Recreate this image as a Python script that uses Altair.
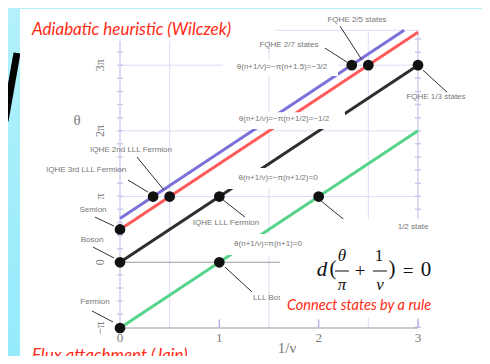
import altair as alt
import pandas as pd

# ---------------- data ----------------
series_names = ["green", "black", "red", "blue"]
series_x0 = [0, 0, 0, 0]
series_y0 = [0, 1, 1.5, 1.667]
series_x1 = [3, 3, 3, 2.86]
series_y1 = [3, 4, 4.5, 4.53]
series_colors = ["#56d48c", "#2e2e2e", "#ff5a5a", "#7b72d9"]

point_x = [0, 0, 0, 1 / 3, 0.5, 1, 1, 2, 7 / 3, 2.5, 3]
point_y = [0, 1, 1.5, 2, 2, 2, 1, 2, 4, 4, 4]

label_text = ["FQHE 2/5 states", "FQHE 2/7 states", "FQHE 1/3 states",
              "IQHE 2nd LLL Fermion", "IQHE 3rd LLL Fermion", "Semion",
              "Boson", "Fermion", "IQHE LLL Fermion", "1/2 state", "LLL Boson"]
label_x = [2.386, 1.701, 3.181, 0.111, -0.342, -0.272, -0.282, -0.252, 1.067, 2.95, 1.53]
label_y = [4.684, 4.30, 3.513, 2.707, 2.403, 1.795, 1.338, 0.395, 1.597, 1.536, 0.456]

arrow_x1 = [2.215, 2.064, 3.050, 0.171, 0.081, -0.252, -0.272, -0.282, 1.027, 2.013, 1.057]
arrow_y1 = [4.593, 4.259, 3.924, 2.601, 2.251, 1.688, 1.232, 0.259, 1.962, 1.947, 0.928]
arrow_x2 = [2.437, 2.285, 3.292, 0.443, 0.282, -0.060, -0.060, -0.070, 1.258, 2.285, 1.329]
arrow_y2 = [4.076, 4.046, 3.589, 2.099, 2.068, 1.551, 1.065, 0.091, 1.688, 1.612, 0.548]

rule_text = ["θ(n+1/ν)=−π(n+1.5)=−3/2", "θ(n+1/ν)=−π(n+1/2)=−1/2",
             "θ(n+1/ν)=−π(n+1/2)=0", "θ(n+1/ν)=π(n+1)=0"]
rule_x = [1.631, 1.651, 1.591, 1.490]
rule_y = [3.970, 3.179, 2.281, 1.278]
rbox_x1 = [1.037, 1.037, 1.057, 1.057]
rbox_x2 = [2.195, 2.265, 2.094, 1.933]
rbox_y1 = [3.833, 3.027, 2.114, 1.110]
rbox_y2 = [4.091, 3.285, 2.433, 1.430]

xtick_vals = [0, 1, 2, 3]
xtick_labels = ["0", "1", "2", "3"]
ytick_vals = [0, 1, 2, 3, 4]
ytick_labels = ["−π", "0", "π", "2π", "3π"]
grid_x = [0.5, 1.5, 2.5]
grid_y = [2, 3, 4, 4.53]

# ---------------- helpers ----------------
W, H = 298, 299
xs = alt.Scale(domain=[0, 3], nice=False, zero=False)
ys = alt.Scale(domain=[0, 4.55], nice=False, zero=False)
dummy = pd.DataFrame({"a": [0]})


def XX(f):
    return alt.X(f, type="quantitative", scale=xs, axis=None)


def YY(f):
    return alt.Y(f, type="quantitative", scale=ys, axis=None)


def rules(df, color, width, dash=None):
    kw = dict(color=color, strokeWidth=width)
    if dash is not None:
        kw["strokeDash"] = dash
    return alt.Chart(df).mark_rule(**kw).encode(
        x=XX("x"), x2="x2:Q", y=YY("y"), y2="y2:Q")


def pbox(x1, x2, y1, y2, color="white"):
    return alt.Chart(dummy).mark_rect(color=color).encode(
        x=alt.value(x1), x2=alt.value(x2), y=alt.value(y1), y2=alt.value(y2))


def ptext(t, px, py, size, color, font, style="normal", align="center",
          baseline="middle", weight="normal"):
    return alt.Chart(dummy).mark_text(
        text=t, fontSize=size, color=color, font=font, fontStyle=style,
        align=align, baseline=baseline, fontWeight=weight).encode(
        x=alt.value(px), y=alt.value(py))


layers = []

# background gradient, stray title glyph, white slide panel
layers.append(alt.Chart(dummy).mark_rect(color=alt.Gradient(
    gradient="linear",
    stops=[alt.GradientStop(color="#b3f1fb", offset=0),
           alt.GradientStop(color="#93eafc", offset=1)],
    x1=0, x2=0, y1=0, y2=1)).encode(
    x=alt.value(-125), x2=alt.value(375), y=alt.value(-30), y2=alt.value(345)))
layers.append(alt.Chart(dummy).mark_rule(color="black", strokeWidth=7).encode(
    x=alt.value(-103), x2=alt.value(-115), y=alt.value(24), y2=alt.value(92)))
layers.append(pbox(-100, 375, -20, 345))

# grid
grid_v = pd.DataFrame({"x": grid_x, "x2": grid_x, "y": [0] * len(grid_x),
                       "y2": [4.53] * len(grid_x)})
grid_h = pd.DataFrame({"x": [0] * len(grid_y), "x2": [3] * len(grid_y),
                       "y": grid_y, "y2": grid_y})
layers.append(rules(grid_v, "#dcdcf4", 1))
layers.append(rules(grid_h, "#dcdcf4", 1))
side = pd.DataFrame({"x": [0, 3], "x2": [0, 3], "y": [0, 0], "y2": [4.53, 4.53]})
layers.append(rules(side, "#c9c9ee", 1.3))
layers.append(rules(side, "#c9c9ee", 6, [1.5, 11.6]))
zero_line = pd.DataFrame({"x": [0], "x2": [1.9], "y": [1], "y2": [1]})
layers.append(rules(zero_line, "#9a9a9a", 1))
base = pd.DataFrame({"x": [0], "x2": [3], "y": [0], "y2": [0]})
layers.append(rules(base, "#9a9a9a", 1.2))
xt = pd.DataFrame({"x": xtick_vals[1:], "x2": xtick_vals[1:],
                   "y": [0] * 3, "y2": [0.13] * 3})
layers.append(rules(xt, "#b8b8e8", 1.5))

# series lines
rows = []
for n, a, b, c, d in zip(series_names, series_x0, series_y0, series_x1, series_y1):
    rows.append({"s": n, "x": a, "y": b})
    rows.append({"s": n, "x": c, "y": d})
layers.append(alt.Chart(pd.DataFrame(rows)).mark_line(strokeWidth=3).encode(
    x=XX("x"), y=YY("y"),
    color=alt.Color("s:N", scale=alt.Scale(domain=series_names, range=series_colors),
                    legend=None)))

# arrows
arr = pd.DataFrame({"x": arrow_x1, "x2": arrow_x2, "y": arrow_y1, "y2": arrow_y2})
layers.append(rules(arr, "#333333", 1))

# white boxes behind the rule formulas
rb = pd.DataFrame({"x": rbox_x1, "x2": rbox_x2, "y": rbox_y1, "y2": rbox_y2})
layers.append(alt.Chart(rb).mark_rect(color="white").encode(
    x=XX("x"), x2="x2:Q", y=YY("y"), y2="y2:Q"))

# points
layers.append(alt.Chart(pd.DataFrame({"x": point_x, "y": point_y})).mark_circle(
    size=115, color="#111111", opacity=1).encode(x=XX("x"), y=YY("y")))

# white slide overlays (drawn before the labels that sit above them)
layers.append(pbox(-100, 156, -20, 12))
layers.append(pbox(160, 375, 223, 289))
layers.append(pbox(205, 375, 190, 223))

# small gray labels
lab = pd.DataFrame({"t": label_text + rule_text, "x": label_x + rule_x,
                    "y": label_y + rule_y})
lab_main = lab[lab["t"] != "LLL Boson"]
layers.append(alt.Chart(lab_main).mark_text(font="Liberation Sans", fontSize=8,
                                           color="#777777").encode(
    x=XX("x"), y=YY("y"), text="t:N"))
# "LLL Boson" is partly hidden under the formula box: draw it first, box over it
lab_cut = lab[lab["t"] == "LLL Boson"]
layers.append(alt.Chart(lab_cut).mark_text(font="Liberation Sans", fontSize=8,
                                          color="#777777").encode(
    x=XX("x"), y=YY("y"), text="t:N"))
layers.append(pbox(160, 375, 262, 289))

# axis labels
xl = pd.DataFrame({"x": xtick_vals, "y": [-0.15] * 4, "t": xtick_labels})
layers.append(alt.Chart(xl).mark_text(font="Liberation Serif", fontSize=13,
                                     color="#7a7a7a").encode(
    x=XX("x"), y=YY("y"), text="t:N"))
yl = pd.DataFrame({"x": [-0.2] * 5, "y": ytick_vals, "t": ytick_labels})
layers.append(alt.Chart(yl).mark_text(font="Liberation Serif", fontSize=12,
                                     color="#7a7a7a", angle=270).encode(
    x=XX("x"), y=YY("y"), text="t:N"))
layers.append(ptext("1/ν", 167, 319, 15, "#7a7a7a", "Liberation Serif"))
layers.append(ptext("θ", -43, 91, 15, "#7a7a7a", "Liberation Serif"))

# red slide texts
red = "#ff2a14"
layers.append(ptext("Adiabatic heuristic (Wilczek)", -88, 1, 17, red, "Lato",
                    style="italic", align="left"))
layers.append(ptext("Connect states by a rule", 167, 277, 14.5, red, "Lato",
                    style="italic", align="left"))
layers.append(ptext("Flux attachment (Jain)", -88, 319, 17, red, "Lato",
                    style="italic", align="left", baseline="top"))

# formula d(θ/π + 1/ν) = 0
fser = "Liberation Serif"
layers.append(ptext("d", 202, 241, 21, "#111111", fser, style="italic"))
layers.append(ptext("(", 213, 240, 21, "#111111", fser))
layers.append(ptext("θ", 222, 227, 17, "#111111", fser, style="italic"))
layers.append(ptext("π", 222, 256, 17, "#111111", fser, style="italic"))
layers.append(alt.Chart(dummy).mark_rule(color="#111111", strokeWidth=1).encode(
    x=alt.value(215), x2=alt.value(229), y=alt.value(242)))
layers.append(ptext("+", 240, 242, 19, "#111111", fser))
layers.append(ptext("1", 259, 227, 17, "#111111", fser))
layers.append(ptext("ν", 260, 256, 17, "#111111", fser, style="italic"))
layers.append(alt.Chart(dummy).mark_rule(color="#111111", strokeWidth=1).encode(
    x=alt.value(253), x2=alt.value(267), y=alt.value(242)))
layers.append(ptext(")", 272, 240, 21, "#111111", fser))
layers.append(ptext("=", 288, 242, 19, "#111111", fser))
layers.append(ptext("0", 306, 241, 21, "#111111", fser))

chart = alt.layer(*layers).properties(
    width=W, height=H,
    padding={"left": 112, "top": 21, "right": 64, "bottom": 28},
    autosize=alt.AutoSizeParams(type="none"),
    background="#a4eefb",
).configure_view(stroke=None)

chart.save("out.html", embed_options={"renderer": "svg", "actions": False})
